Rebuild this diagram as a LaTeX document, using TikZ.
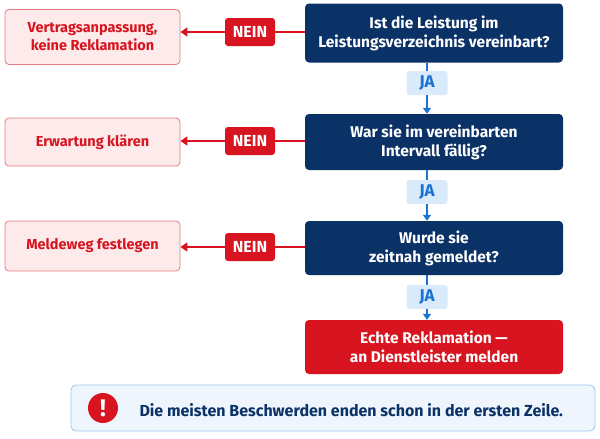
\documentclass[tikz,border=0pt]{standalone}
\usepackage{fontspec}
\setmainfont{Fira Sans}
\usetikzlibrary{arrows.meta}
\definecolor{navy}{HTML}{0B3266}
\definecolor{signal}{HTML}{D7141F}
\definecolor{rose}{HTML}{FDEBEC}
\definecolor{roseline}{HTML}{E57A80}
\definecolor{sky}{HTML}{D9EAFB}
\definecolor{flow}{HTML}{1A73D2}
\definecolor{noteline}{HTML}{9CC6F2}
\definecolor{notefill}{HTML}{EEF5FD}
\tikzset{
	question/.style={rectangle, rounded corners=4pt, fill=navy, text=white, font=\bfseries\fontsize{15.5}{19}\selectfont, minimum width=258pt, align=center},
	outcome/.style={rectangle, rounded corners=4pt, fill=rose, draw=roseline, thick, text=signal, font=\bfseries\fontsize{14.5}{18}\selectfont, minimum width=175pt, align=center},
	nein/.style={rectangle, rounded corners=3pt, fill=signal, text=white, font=\bfseries\fontsize{16}{18}\selectfont, minimum width=50pt, minimum height=28pt, inner sep=1pt},
	ja/.style={rectangle, rounded corners=3pt, fill=sky, text=flow, font=\bfseries\fontsize{17}{18}\selectfont, minimum width=41pt, minimum height=24pt, inner sep=1pt},
}
\begin{document}
\begin{tikzpicture}[x=1pt, y=-1pt]
	\useasboundingbox (0,0) rectangle (600,439);

	\begin{scope}
		\node[question, minimum height=59pt] (Q1) at (434,33) {Ist die Leistung im\\Leistungsverzeichnis vereinbart?};
		\node[question, minimum height=56pt] (Q2) at (434,142) {War sie im vereinbarten\\Intervall fällig?};
		\node[question, minimum height=54pt] (Q3) at (434,248) {Wurde sie\\zeitnah gemeldet?};
		\node[question, fill=signal, minimum height=54pt] (R) at (434,347) {Echte Reklamation —\\an Dienstleister melden};

		\node[outcome, minimum height=55pt] (A1) at (92.5,37) {Vertragsanpassung,\\keine Reklamation};
		\node[outcome, minimum height=48pt] (A2) at (92.5,142) {Erwartung klären};
		\node[outcome, minimum height=50pt] (A3) at (92.5,246) {Meldeweg festlegen};

		\node[nein] (N1) at (250,32) {NEIN};
		\node[nein] (N2) at (250,141) {NEIN};
		\node[nein] (N3) at (250,247) {NEIN};

		\node[ja] (J1) at (427,83) {JA};
		\node[ja] (J2) at (427,192) {JA};
		\node[ja] (J3) at (427,297) {JA};
	\end{scope}

	\begin{scope}[every edge/.style={draw=signal, line width=1.8pt}]
		\path (Q1.west |- N1) edge (N1);
		\path [-{Triangle[length=7pt,width=9pt]}] (N1) edge (A1.east |- N1);
		\path (Q2.west |- N2) edge (N2);
		\path [-{Triangle[length=7pt,width=9pt]}] (N2) edge (A2.east |- N2);
		\path (Q3.west |- N3) edge (N3);
		\path [-{Triangle[length=7pt,width=9pt]}] (N3) edge (A3.east |- N3);
	\end{scope}

	\begin{scope}[every edge/.style={draw=flow, line width=1.4pt}]
		\path (Q1.south -| J1) edge (J1);
		\path [-{Triangle[length=6pt,width=8pt]}] (J1) edge (Q2.north -| J1);
		\path (Q2.south -| J2) edge (J2);
		\path [-{Triangle[length=6pt,width=8pt]}] (J2) edge (Q3.north -| J2);
		\path (Q3.south -| J3) edge (J3);
		\path [-{Triangle[length=6pt,width=8pt]}] (J3) edge (R.north -| J3);
	\end{scope}

	\node[rectangle, rounded corners=5pt, draw=noteline, fill=notefill, thick, minimum width=524pt, minimum height=46pt] (note) at (333,408) {};
	\node[circle, fill=signal, text=white, minimum size=30pt, inner sep=0pt, font=\bfseries\fontsize{24}{24}\selectfont] (bang) at (103,408) {!};
	\node[anchor=west, text=navy, font=\bfseries\fontsize{16}{19}\selectfont] (tip) at (136,410) {Die meisten Beschwerden enden schon in der ersten Zeile.};
\end{tikzpicture}
\end{document}
